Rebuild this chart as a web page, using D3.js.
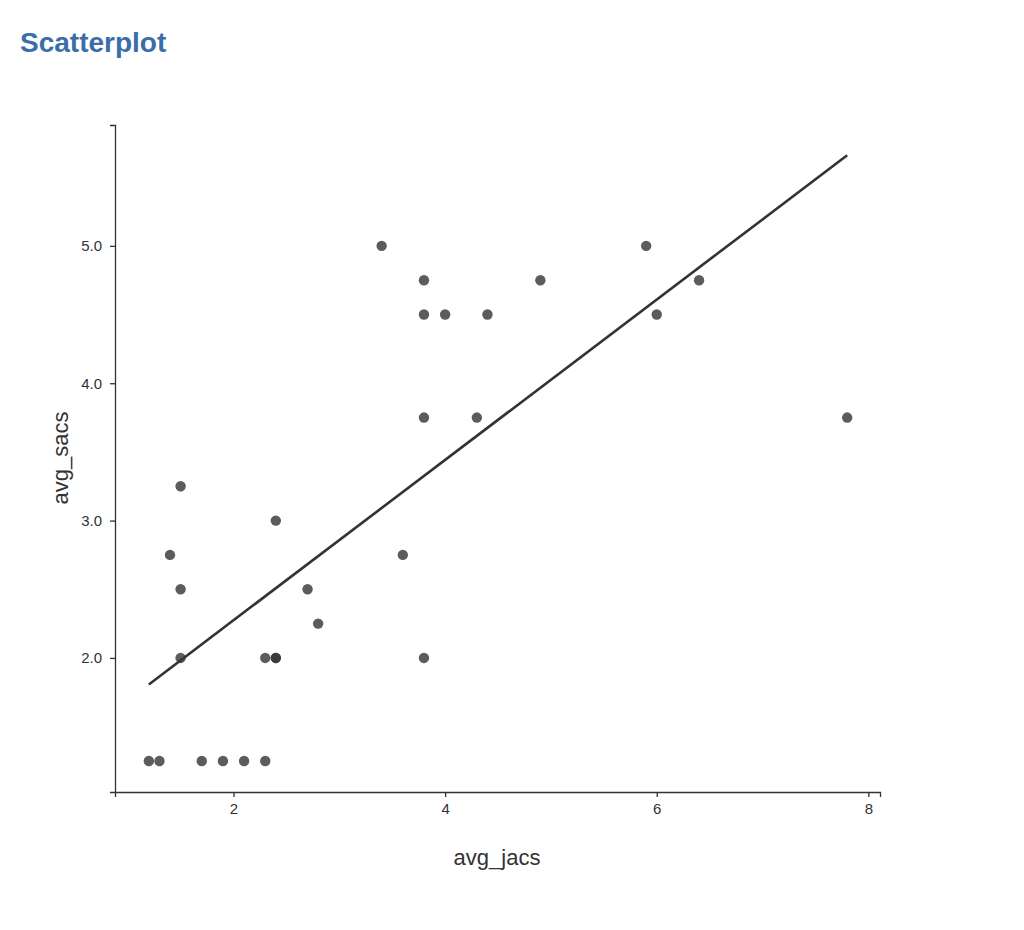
<!DOCTYPE html>
<html><head><meta charset="utf-8">
<script src="https://cdn.jsdelivr.net/npm/d3@7"></script>
<style>body{margin:0;background:#fff;font-family:"Liberation Sans",Arial,sans-serif}</style>
</head><body><svg id="c" width="1024" height="930"></svg>
<script>
const avgJacs = [1.2,1.3,1.7,1.9,2.1,2.3,1.4,1.5,1.5,1.5,2.3,2.4,2.4,2.4,2.7,2.8,3.4,3.6,3.8,3.8,3.8,3.8,4.0,4.3,4.4,4.9,5.9,6.0,6.4,7.8];
const avgSacs = [1.25,1.25,1.25,1.25,1.25,1.25,2.75,3.25,2.5,2.0,2.0,2.0,2.0,3.0,2.5,2.25,5.0,2.75,4.75,4.5,3.75,2.0,4.5,3.75,4.5,4.75,5.0,4.5,4.75,3.75];
const xTicks = [2,4,6,8];
const yTicks = [2,3,4,5];

const svg = d3.select("#c");
svg.append("text").attr("x",20).attr("y",52).attr("fill","#3b6ea8")
  .attr("font-size",28).attr("font-weight","bold").text("Scatterplot");

const x = d3.scaleLinear().domain([0.88,8.11]).range([115,880]);
const y = d3.scaleLinear().domain([1.024,5.88]).range([792,125]);

const gx = svg.append("g").attr("transform","translate(0,792)")
  .call(d3.axisBottom(x).tickValues(xTicks).tickSize(5).tickPadding(6));
const gy = svg.append("g").attr("transform","translate(115,0)")
  .call(d3.axisLeft(y).tickValues(yTicks).tickSize(5).tickPadding(8));
[gx,gy].forEach(g=>{g.selectAll("path,line").attr("stroke","#333").attr("stroke-width",1.3);
  g.selectAll("text").attr("font-size",15).attr("fill","#333").attr("font-family","Liberation Sans, Arial, sans-serif");});

svg.append("text").attr("x",497).attr("y",865).attr("text-anchor","middle").attr("font-size",22).attr("fill","#333").text("avg_jacs");
svg.append("text").attr("transform","translate(68,458) rotate(-90)").attr("text-anchor","middle").attr("font-size",22).attr("fill","#333").text("avg_sacs");

// linear fit
const n=avgJacs.length, mx=d3.mean(avgJacs), my=d3.mean(avgSacs);
let sxy=0,sxx=0; for(let i=0;i<n;i++){sxy+=(avgJacs[i]-mx)*(avgSacs[i]-my);sxx+=(avgJacs[i]-mx)**2;}
const b=sxy/sxx, a=my-b*mx;
const ex=d3.extent(avgJacs);

svg.append("g").selectAll("circle").data(avgJacs).join("circle")
  .attr("cx",d=>x(d)).attr("cy",(d,i)=>y(avgSacs[i])).attr("r",5.2)
  .attr("fill","#333").attr("fill-opacity",0.8);

svg.append("line").attr("x1",x(ex[0])).attr("y1",y(a+b*ex[0])).attr("x2",x(ex[1])).attr("y2",y(a+b*ex[1]))
  .attr("stroke","#333").attr("stroke-width",2.6);
</script></body></html>
